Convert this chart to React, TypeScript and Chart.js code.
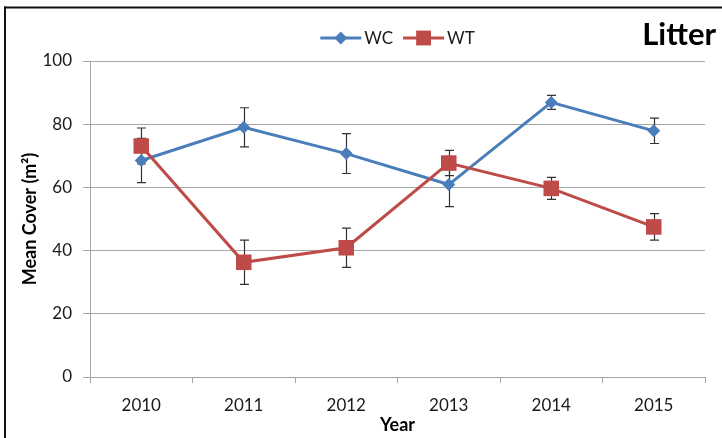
import React, { useEffect, useRef } from 'react';
import { Chart, registerables } from 'chart.js';

Chart.register(...registerables);

const years = ['2010', '2011', '2012', '2013', '2014', '2015'];
const wcMean = [68.5, 79.0, 70.7, 60.9, 86.9, 77.9];
const wcErr = [7.0, 6.2, 6.3, 7.0, 2.2, 4.0];
const wtMean = [73.1, 36.3, 40.9, 67.7, 59.7, 47.5];
const wtErr = [5.7, 7.0, 6.2, 4.0, 3.5, 4.2];
const yTicks = [0, 20, 40, 60, 80, 100];
const seriesNames = ['WC', 'WT'];
const chartTitle = 'Litter';
const xTitle = 'Year';
const yTitle = 'Mean Cover (m²)';

const BLUE = '#4A7EBB';
const RED = '#BE4B48';
const GRID = '#A6A6A6';
const FONT = 'Lato, "Open Sans", sans-serif';

function drawMarker(ctx: CanvasRenderingContext2D, style: string, x: number, y: number, r: number, color: string) {
  ctx.save();
  ctx.fillStyle = color;
  ctx.beginPath();
  if (style === 'rectRot') {
    ctx.moveTo(x - r, y);
    ctx.lineTo(x, y - r);
    ctx.lineTo(x + r, y);
    ctx.lineTo(x, y + r);
    ctx.closePath();
  } else {
    const s = Math.SQRT1_2 * r;
    ctx.rect(x - s, y - s, 2 * s, 2 * s);
  }
  ctx.fill();
  ctx.restore();
}

const framePlugin = {
  id: 'frame',
  beforeDraw(chart: any) {
    const ctx = chart.ctx;
    ctx.save();
    ctx.fillStyle = '#ffffff';
    ctx.fillRect(0, 0, chart.width, chart.height);
    ctx.fillStyle = '#111111';
    ctx.fillRect(4, 6.5, chart.width - 4, 2);
    ctx.fillRect(4, 6.5, 2, chart.height - 6.5);
    ctx.restore();
  },
};

const errorBarPlugin = {
  id: 'errorBars',
  beforeDatasetsDraw(chart: any) {
    const ctx = chart.ctx;
    const yScale = chart.scales.y;
    ctx.save();
    ctx.strokeStyle = '#333333';
    ctx.lineWidth = 1.2;
    chart.data.datasets.forEach((ds: any, i: number) => {
      const meta = chart.getDatasetMeta(i);
      const errs: number[] = ds.errors || [];
      meta.data.forEach((pt: any, j: number) => {
        const v = ds.data[j];
        const e = errs[j];
        if (v == null || e == null) return;
        const x = Math.round(pt.x) + 0.5;
        const yt = yScale.getPixelForValue(v + e);
        const yb = yScale.getPixelForValue(v - e);
        ctx.beginPath();
        ctx.moveTo(x, yt);
        ctx.lineTo(x, yb);
        ctx.moveTo(x - 4.5, yt);
        ctx.lineTo(x + 4.5, yt);
        ctx.moveTo(x - 4.5, yb);
        ctx.lineTo(x + 4.5, yb);
        ctx.stroke();
      });
    });
    ctx.restore();
  },
};

const legendTitlePlugin = {
  id: 'legendTitle',
  afterDraw(chart: any) {
    const ctx = chart.ctx;
    const area = chart.chartArea;
    ctx.save();
    ctx.font = `17px ${FONT}`;
    ctx.textBaseline = 'middle';
    const sample = 41;
    const gapText = 3;
    const gapItem = 10;
    const items = chart.data.datasets.map((ds: any) => ({
      label: ds.label,
      color: ds.borderColor,
      style: ds.pointStyle,
      w: sample + gapText + ctx.measureText(ds.label).width,
    }));
    const total = items.reduce((s: number, it: any) => s + it.w, 0) + gapItem * (items.length - 1);
    let x = (area.left + area.right) / 2 - total / 2;
    const y = 38;
    items.forEach((it: any) => {
      ctx.strokeStyle = it.color;
      ctx.lineWidth = 3;
      ctx.beginPath();
      ctx.moveTo(x, y);
      ctx.lineTo(x + sample, y);
      ctx.stroke();
      drawMarker(ctx, it.style, x + sample / 2, y, it.style === 'rectRot' ? 6.5 : 10.5, it.color);
      ctx.fillStyle = '#1a1a1a';
      ctx.textAlign = 'left';
      ctx.fillText(it.label, x + sample + gapText, y + 1);
      x += it.w + gapItem;
    });
    ctx.font = `bold 31px ${FONT}`;
    ctx.fillStyle = '#000000';
    ctx.textAlign = 'right';
    ctx.textBaseline = 'alphabetic';
    ctx.fillText(chartTitle, 716, 45);
    ctx.restore();
  },
};

export default function App() {
  const canvasRef = useRef<HTMLCanvasElement | null>(null);

  useEffect(() => {
    if (!canvasRef.current) return;
    const chart = new Chart(canvasRef.current, {
      type: 'line',
      data: {
        labels: years,
        datasets: [
          {
            label: seriesNames[0],
            data: wcMean,
            errors: wcErr,
            borderColor: BLUE,
            backgroundColor: BLUE,
            borderWidth: 3,
            pointStyle: 'rectRot',
            pointRadius: 6.5,
            pointBorderWidth: 0,
            pointBackgroundColor: BLUE,
            tension: 0,
            order: 1,
          } as any,
          {
            label: seriesNames[1],
            data: wtMean,
            errors: wtErr,
            borderColor: RED,
            backgroundColor: RED,
            borderWidth: 3,
            pointStyle: 'rect',
            pointRadius: 11,
            pointBorderWidth: 0,
            pointBackgroundColor: RED,
            tension: 0,
            order: 0,
          } as any,
        ],
      },
      options: {
        responsive: false,
        animation: false,
        devicePixelRatio: 1,
        layout: { padding: { top: 61, right: 17, bottom: 0, left: 0 } },
        plugins: {
          legend: { display: false },
          title: { display: false },
          tooltip: { enabled: false },
        },
        scales: {
          x: {
            type: 'category',
            offset: true,
            grid: {
              display: true,
              offset: true,
              drawOnChartArea: false,
              drawTicks: true,
              tickLength: 6,
              color: GRID,
            },
            border: { display: true, color: GRID, width: 1 },
            ticks: {
              color: '#1a1a1a',
              font: { family: FONT, size: 17 },
              padding: 12,
              maxRotation: 0,
            },
            title: {
              display: true,
              text: xTitle,
              color: '#000000',
              font: { family: FONT, size: 18, weight: 'bold' },
              padding: { top: 0, bottom: 2 },
            },
            afterFit(scale: any) {
              scale.height = 61;
            },
          },
          y: {
            min: 0,
            max: 100,
            afterBuildTicks(scale: any) {
              scale.ticks = yTicks.map((v) => ({ value: v }));
            },
            grid: {
              color: GRID,
              tickLength: 7,
              lineWidth: 1,
            },
            border: { display: true, color: GRID, width: 1 },
            ticks: {
              color: '#1a1a1a',
              font: { family: FONT, size: 17 },
              padding: 11,
            },
            title: {
              display: true,
              text: yTitle,
              color: '#000000',
              font: { family: FONT, size: 18, weight: 'bold' },
              padding: { top: 19, bottom: 0 },
            },
            afterFit(scale: any) {
              scale.width = 90;
            },
          },
        },
      } as any,
      plugins: [framePlugin, errorBarPlugin, legendTitlePlugin],
    });
    return () => chart.destroy();
  }, []);

  return (
    <div style={{ position: 'absolute', left: 0, top: 0, width: 722, height: 438, background: '#fff' }}>
      <canvas ref={canvasRef} width={722} height={438} style={{ width: 722, height: 438, display: 'block' }} />
    </div>
  );
}
